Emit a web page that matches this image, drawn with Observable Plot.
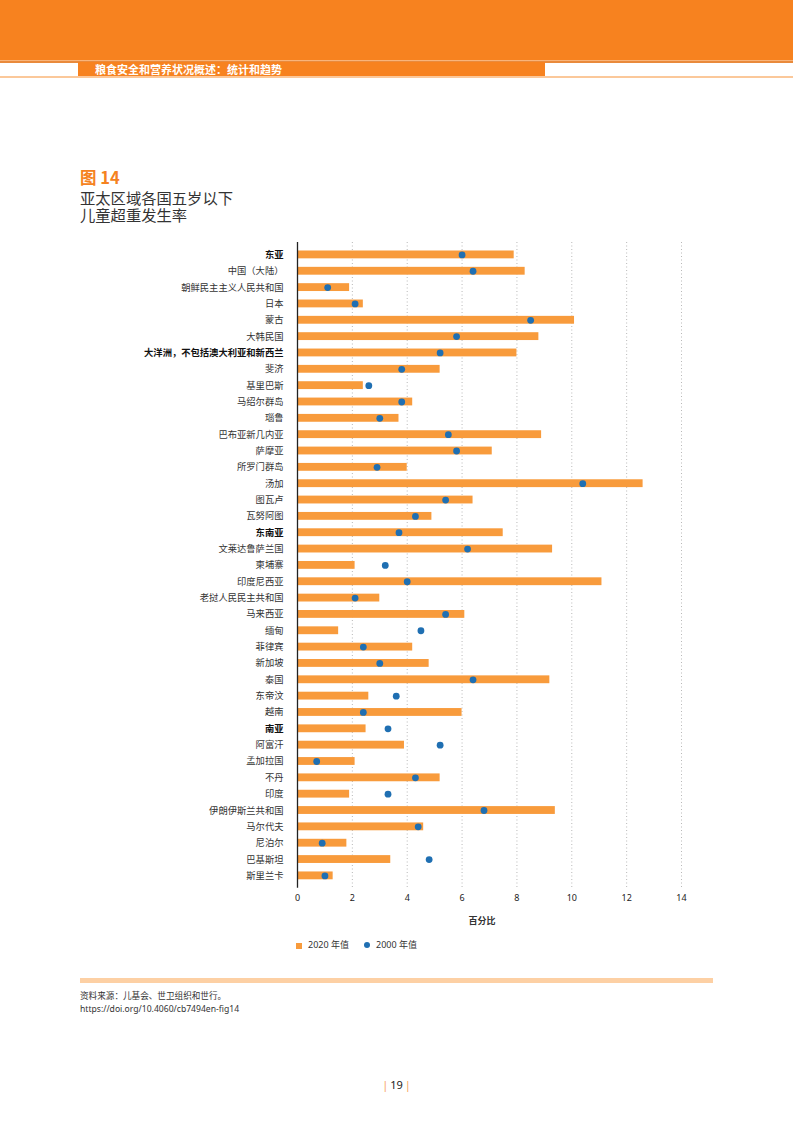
<!DOCTYPE html>
<html><head><meta charset="utf-8">
<script src="https://cdn.jsdelivr.net/npm/d3@7"></script>
<script src="https://cdn.jsdelivr.net/npm/@observablehq/plot@0.6"></script>
<style>
body{margin:0;width:793px;height:1122px;position:relative;background:#fff;font-family:"Noto Sans","Noto Sans CJK SC",sans-serif;overflow:hidden;color:#333}
.abs{position:absolute;white-space:nowrap}
</style></head><body>
<div class="abs" style="left:0;top:0;width:793px;height:60px;background:#F7821F"></div>
<div class="abs" style="left:0;top:60px;width:793px;height:1px;background:#F9B47A"></div>
<div class="abs" style="left:0;top:61px;width:793px;height:1.5px;background:#E98A3C"></div>
<div class="abs" style="left:78px;top:62px;width:467px;height:14px;background:#F7821F"></div>
<div class="abs" style="left:0;top:76px;width:793px;height:1.5px;background:#FBC89A"></div>
<div class="abs" style="left:95px;top:62px;height:14px;line-height:14px;color:#fff;font-weight:bold;font-size:11px;font-family:'Noto Sans CJK SC'">粮食安全和营养状况概述：统计和趋势</div>

<div class="abs" style="left:80px;top:169px;font-size:16.5px;line-height:17px;font-weight:bold;color:#F58220;font-family:'Noto Sans CJK SC'">图 14</div>
<div class="abs" style="left:80px;top:189px;font-size:15.3px;line-height:16px;color:#333;font-family:'Noto Sans CJK SC'">亚太区域各国五岁以下</div>
<div class="abs" style="left:80px;top:206px;font-size:15.3px;line-height:16px;color:#333;font-family:'Noto Sans CJK SC'">儿童超重发生率</div>

<div id="chart" class="abs" style="left:0;top:230px"></div>

<div class="abs" style="left:0;top:914px;width:964px;text-align:center;font-size:9px;font-weight:bold;font-family:'Noto Sans CJK SC'">百分比</div>

<div class="abs" style="left:296px;top:943px;width:5.5px;height:5.5px;background:#F89B3C"></div>
<div class="abs" style="left:308px;top:938px;font-size:9px;line-height:14px">2020 年值</div>
<div class="abs" style="left:364.3px;top:942.3px;width:6px;height:6px;border-radius:50%;background:#1F6FB2"></div>
<div class="abs" style="left:376px;top:938px;font-size:9px;line-height:14px">2000 年值</div>

<div class="abs" style="left:80px;top:978px;width:633px;height:5px;background:#FDD0A4"></div>
<div class="abs" style="left:80px;top:990px;font-size:8.6px;line-height:13px;color:#333">资料来源：儿基会、世卫组织和世行。<br>https://doi.org/10.4060/cb7494en-fig14</div>

<div class="abs" style="left:0;top:1077px;width:793px;text-align:center;font-size:11px;line-height:16px;color:#222"><span style="color:#F7A25A">|</span>&thinsp;19&thinsp;<span style="color:#F7A25A">|</span></div>

<script>
const names = ["东亚","中国（大陆）","朝鲜民主主义人民共和国","日本","蒙古","大韩民国",
"大洋洲，不包括澳大利亚和新西兰","斐济","基里巴斯","马绍尔群岛","瑙鲁","巴布亚新几内亚","萨摩亚","所罗门群岛","汤加","图瓦卢","瓦努阿图",
"东南亚","文莱达鲁萨兰国","柬埔寨","印度尼西亚","老挝人民民主共和国","马来西亚","缅甸","菲律宾","新加坡","泰国","东帝汶","越南",
"南亚","阿富汗","孟加拉国","不丹","印度","伊朗伊斯兰共和国","马尔代夫","尼泊尔","巴基斯坦","斯里兰卡"];
const values2020 = [7.9,8.3,1.9,2.4,10.1,8.8,
8.0,5.2,2.4,4.2,3.7,8.9,7.1,4.0,12.6,6.4,4.9,
7.5,9.3,2.1,11.1,3.0,6.1,1.5,4.2,4.8,9.2,2.6,6.0,
2.5,3.9,2.1,5.2,1.9,9.4,4.6,1.8,3.4,1.3];
const values2000 = [6.0,6.4,1.1,2.1,8.5,5.8,
5.2,3.8,2.6,3.8,3.0,5.5,5.8,2.9,10.4,5.4,4.3,
3.7,6.2,3.2,4.0,2.1,5.4,4.5,2.4,3.0,6.4,3.6,2.4,
3.3,5.2,0.7,4.3,3.3,6.8,4.4,0.9,4.8,1.0];
const regions = ["东亚","大洋洲，不包括澳大利亚和新西兰","东南亚","南亚"];
const xTicks = [0,2,4,6,8,10,12,14];

const data = names.map((n,i)=>({name:n, v2020:values2020[i], v2000:values2000[i]}));

const chart = Plot.plot({
  width:793, height:690,
  marginLeft:297, marginRight:112, marginTop:12, marginBottom:32.2,
  style:{fontFamily:"'Noto Sans','Noto Sans CJK SC',sans-serif", fontSize:"9.3px", color:"#333", background:"transparent"},
  x:{domain:[0,14], label:null},
  y:{domain:names, padding:0.52, round:false, label:null},
  marks:[
    Plot.gridX(xTicks.slice(1), {stroke:"#b8b8b8", strokeOpacity:1, strokeDasharray:"1,2.5"}),
    Plot.barX(data,{x:"v2020", y:"name", fill:"#F89B3C"}),
    Plot.ruleX([0],{stroke:"#222", strokeWidth:1.3}),
    Plot.dot(data,{x:"v2000", y:"name", r:3.4, fill:"#1F6FB2"}),
    Plot.axisY({tickSize:0, tickPadding:14, label:null, fill:"#333", fontFamily:"'Noto Sans CJK SC'", tickFormat:d=>regions.includes(d)?"":d}),
    Plot.axisY({ticks:regions, tickSize:0, tickPadding:14, label:null, fill:"#111", fontWeight:"bold", fontFamily:"'Noto Sans CJK SC'"}),
    Plot.axisX({ticks:xTicks, tickSize:0, tickPadding:6, label:null, fill:"#222", fontSize:9})
  ]
});
document.getElementById("chart").appendChild(chart);
</script>
</body></html>
